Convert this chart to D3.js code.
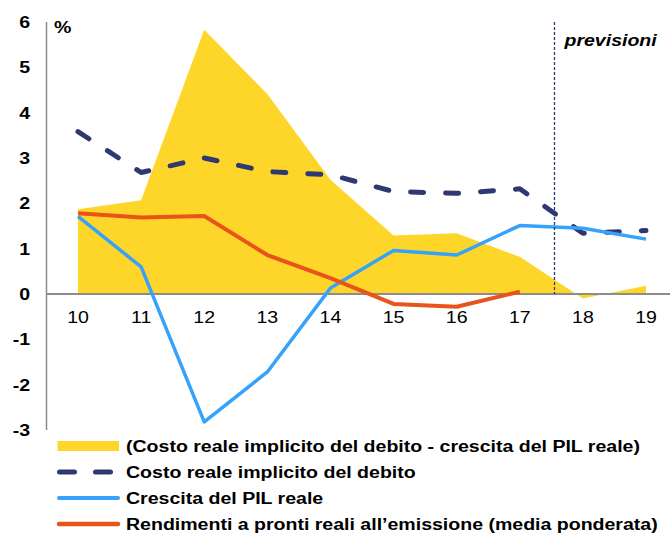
<!DOCTYPE html>
<html><head><meta charset="utf-8">
<script src="https://cdn.jsdelivr.net/npm/d3@7/dist/d3.min.js"></script>
<style>
html,body{margin:0;padding:0;background:#fff;}
svg text{font-family:"Liberation Sans",Arial,sans-serif;fill:#000;}
</style></head>
<body>
<svg id="c" width="670" height="534"></svg>
<script>
const categories = ["10","11","12","13","14","15","16","17","18","19"];
const diffValues = [1.87, 2.07, 5.83, 4.41, 2.52, 1.29, 1.34, 0.82, -0.10, 0.18];
const costoValues = [3.58, 2.68, 3.00, 2.70, 2.63, 2.26, 2.22, 2.32, 1.34, 1.40];
const pilValues = [1.71, 0.60, -2.82, -1.72, 0.13, 0.96, 0.86, 1.51, 1.45, 1.21];
const rendCategories = ["10","11","12","13","14","15","16","17"];
const rendValues = [1.78, 1.69, 1.72, 0.86, 0.35, -0.22, -0.28, 0.05];
const yTicks = [-3,-2,-1,0,1,2,3,4,5,6];
const legendLabels = [
  "(Costo reale implicito del debito - crescita del PIL reale)",
  "Costo reale implicito del debito",
  "Crescita del PIL reale",
  "Rendimenti a pronti reali all\u2019emissione (media ponderata)"
];
const forecastStart = "18";

const C = {yellow:"#FED62A", navy:"#2E3872", blue:"#36A2FA", orange:"#E8541B", axis:"#8c8c8c"};
const SX = 1.15, FS = 17;

const svg = d3.select("#c");
const x = d3.scalePoint().domain(categories).range([78, 646]);
const y = d3.scaleLinear().domain([-3, 6]).range([430, 22]);
const axisX = 46.5;

function txt(g, s, px, py, opts={}) {
  return g.append("text")
    .attr("transform", `translate(${px},${py}) scale(${SX},1)`)
    .attr("text-anchor", opts.anchor || "start")
    .attr("dy", opts.dy || 0)
    .style("font-size", (opts.size || FS) + "px")
    .style("font-weight", opts.weight || "normal")
    .style("font-style", opts.style || "normal")
    .text(s);
}

// area
const areaData = categories.map((c,i)=>({c, v: diffValues[i]}));
svg.append("path")
  .datum(areaData)
  .attr("fill", C.yellow)
  .attr("d", d3.area().x(d=>x(d.c)).y0(y(0)).y1(d=>y(d.v)));

// y axis line
svg.append("line").attr("x1",axisX).attr("x2",axisX).attr("y1",y(6)).attr("y2",y(-3))
  .attr("stroke",C.axis).attr("stroke-width",1.5);
// zero line
svg.append("line").attr("x1",axisX).attr("x2",670).attr("y1",y(0)).attr("y2",y(0))
  .attr("stroke",C.axis).attr("stroke-width",2);

// y tick labels
const gy = svg.append("g");
yTicks.forEach(t => txt(gy, String(t), 30, y(t), {anchor:"end", weight:"bold", dy:"0.36em"}));
// x tick labels
const gx = svg.append("g");
categories.forEach(c => txt(gx, c, x(c), 317, {anchor:"middle", dy:"0.36em"}));

// % label
txt(svg, "%", 54, 33, {weight:"bold"});

// lines
const line = d3.line().x(d=>x(d.c)).y(d=>y(d.v));
svg.append("path").datum(categories.map((c,i)=>({c, v: costoValues[i]})))
  .attr("fill","none").attr("stroke",C.navy).attr("stroke-width",5)
  .attr("stroke-linecap","round").attr("stroke-linejoin","round")
  .attr("stroke-dasharray","13,22").attr("d", line);
svg.append("path").datum(categories.map((c,i)=>({c, v: pilValues[i]})))
  .attr("fill","none").attr("stroke",C.blue).attr("stroke-width",3.5)
  .attr("stroke-linejoin","round").attr("d", line);
svg.append("path").datum(rendCategories.map((c,i)=>({c, v: rendValues[i]})))
  .attr("fill","none").attr("stroke",C.orange).attr("stroke-width",4)
  .attr("stroke-linejoin","round").attr("d", line);

// forecast divider
const step = x.step();
const fx = x(forecastStart) - step*0.45;
svg.append("line").attr("x1",fx).attr("x2",fx).attr("y1",y(6)).attr("y2",y(0))
  .attr("stroke",C.navy).attr("stroke-width",1.3).attr("stroke-dasharray","3,2");
txt(svg, "previsioni", fx + 10, 46, {weight:"bold", style:"italic"});

// legend
const lg = svg.append("g");
const rowY = [446, 472, 498, 524];
lg.append("rect").attr("x",57.5).attr("y",rowY[0]-5).attr("width",61.5).attr("height",10).attr("fill",C.yellow);
lg.append("line").attr("x1",59.5).attr("x2",110.5).attr("y1",rowY[1]).attr("y2",rowY[1])
  .attr("stroke",C.navy).attr("stroke-width",5).attr("stroke-linecap","round").attr("stroke-dasharray","15,21");
lg.append("line").attr("x1",59).attr("x2",118).attr("y1",rowY[2]).attr("y2",rowY[2])
  .attr("stroke",C.blue).attr("stroke-width",4).attr("stroke-linecap","round");
lg.append("line").attr("x1",59).attr("x2",118).attr("y1",rowY[3]).attr("y2",rowY[3])
  .attr("stroke",C.orange).attr("stroke-width",4.5).attr("stroke-linecap","round");
legendLabels.forEach((s,i)=> txt(lg, s, 126, rowY[i]+6, {weight:"bold"}));
</script>
</body></html>
